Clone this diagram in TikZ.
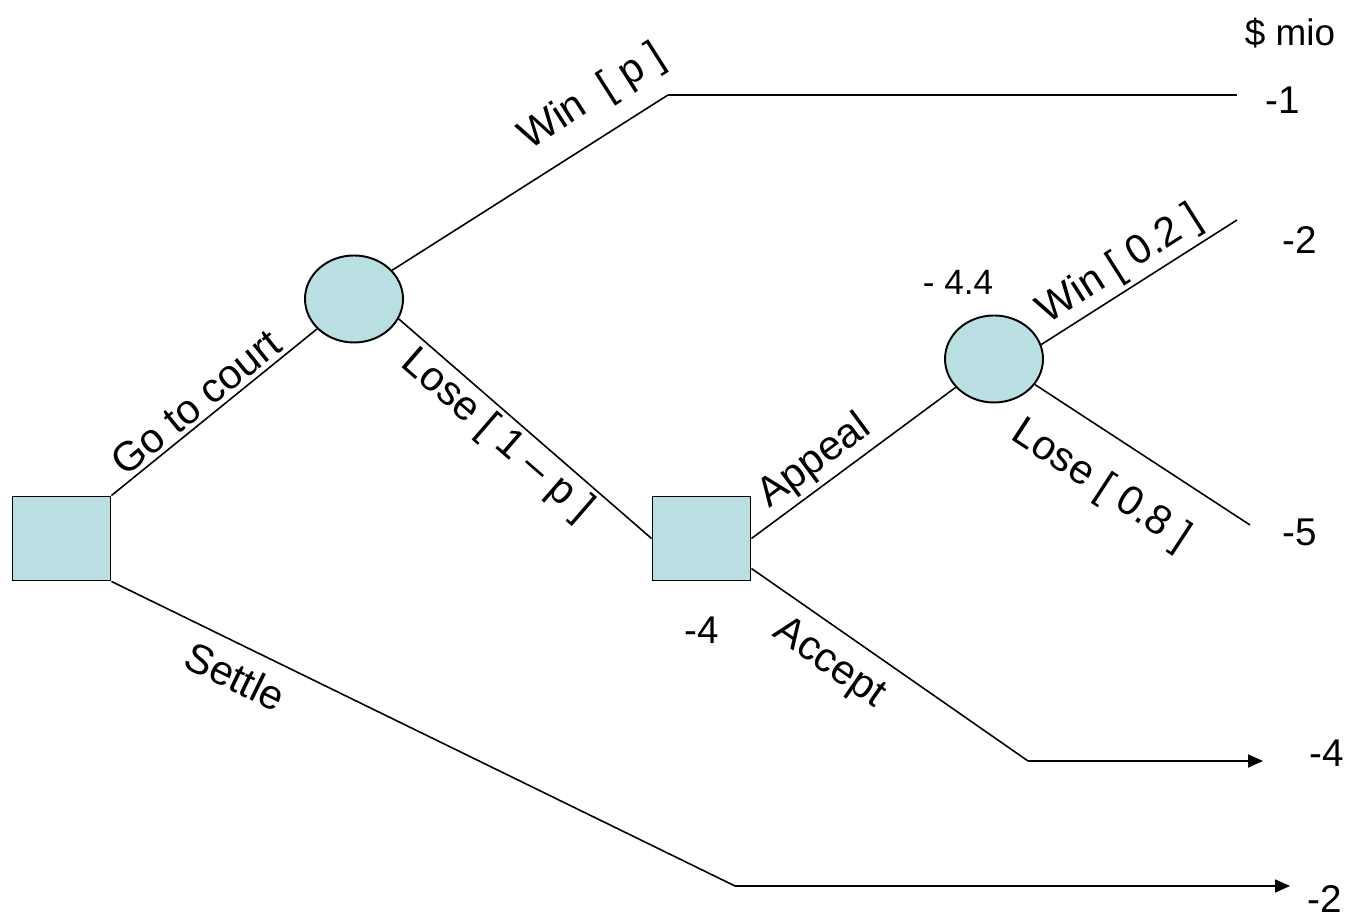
\documentclass[tikz,border=0pt]{standalone}
\usepackage{fontspec}
\setmainfont{Liberation Sans}
\usetikzlibrary{arrows.meta,shapes.geometric}

\definecolor{nodefill}{RGB}{186,223,226}

\tikzset{
	decision/.style={draw, line width=1.1pt, fill=nodefill, minimum width=1.96cm, minimum height=1.68cm, inner sep=0pt},
	chance/.style={ellipse, draw, line width=1.1pt, fill=nodefill, minimum width=1.96cm, minimum height=1.74cm, inner sep=0pt},
	branch/.style={line width=0.9pt},
	lbl/.style={font=\fontsize{23.5}{28}\selectfont, sloped},
	val/.style={font=\fontsize{22}{26}\selectfont},
	small/.style={font=\fontsize{20}{24}\selectfont},
}

\begin{document}
\begin{tikzpicture}
		\useasboundingbox (0,0) rectangle (26.96,18.4);
		
		% decision and chance nodes
		\node[decision] (court) at (1.23,7.63) {};
		\node[chance] (trial) at (7.08,12.42) {};
		\node[decision] (appeal) at (14.03,7.63) {};
		\node[chance] (retrial) at (19.88,11.22) {};
		
		% corners and ends of the branches
		\coordinate (win) at (13.36,16.5);
		\coordinate (winend) at (24.74,16.5);
		\coordinate (win2) at (24.74,14.0);
		\coordinate (lose2) at (25.0,7.9);
		\coordinate (accept) at (20.56,3.18);
		\coordinate (acceptend) at (25.26,3.18);
		\coordinate (settle) at (14.7,0.68);
		\coordinate (settleend) at (25.8,0.68);
		
		\draw[branch] (court.north east) -- (trial) node[lbl, pos=0.47, above=-1pt]{Go to court};
		\draw[branch] (trial.37) -- (win) node[lbl, pos=0.8, above=7pt]{Win\ \ [ p ]};
		\draw[branch] (win) -- (winend);
		\draw[branch] (trial.-24) -- (appeal.west) node[lbl, pos=0.45, below=-1pt]{Lose [ 1 -- p ]};
		\draw[branch] (appeal.east) -- (retrial) node[lbl, pos=0.38, above=-1pt]{Appeal};
		\draw[branch] (retrial.17) -- (win2) node[lbl, pos=0.47, above=-1pt]{Win [ 0.2 ]};
		\draw[branch] (retrial.-32) -- (lose2) node[lbl, pos=0.43, below=13pt]{Lose [ 0.8 ]};
		\draw[branch] (appeal.-31) -- (accept) node[lbl, pos=0.35, below=5pt]{Accept};
		\draw[branch, -{Triangle[length=8.5pt,width=7.4pt]}] (accept) -- (acceptend);
		\draw[branch] (court.south east) -- (settle) node[lbl, pos=0.22, below=5pt]{Settle};
		\draw[branch, -{Triangle[length=8.5pt,width=7.4pt]}] (settle) -- (settleend);
		
		% payoffs
		\node[small, font=\fontsize{21}{25}\selectfont] (unit) at (25.8,17.74) {\$ mio};
		\node[val] (pwin) at (25.66,16.4) {-1};
		\node[val] (pwin2) at (26.0,13.6) {-2};
		\node[val] (plose2) at (26.0,7.76) {-5};
		\node[val] (paccept) at (26.54,3.34) {-4};
		\node[val] (psettle) at (26.5,0.42) {-2};
		\node[val] (vappeal) at (14.04,5.8) {-4};
		\node[small] (vretrial) at (19.16,12.76) {- 4.4};
\end{tikzpicture}
\end{document}
